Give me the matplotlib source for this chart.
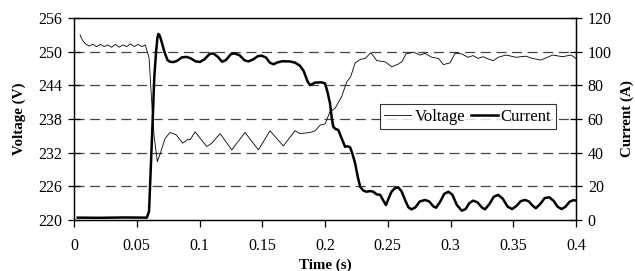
import matplotlib
matplotlib.use("Agg")
import matplotlib.pyplot as plt

plt.rcParams['font.family'] = ['Liberation Serif', 'DejaVu Serif']

time_v = [0.0048, 0.0066, 0.009, 0.012, 0.015, 0.018, 0.021, 0.024, 0.027, 0.030,
          0.033, 0.036, 0.039, 0.042, 0.045, 0.048, 0.051, 0.054, 0.0568, 0.0598,
          0.0622, 0.0638, 0.0664, 0.069, 0.0725, 0.0765, 0.0813, 0.0866, 0.0911, 0.0925,
          0.0965, 0.1058, 0.1098, 0.1164, 0.1257, 0.1363, 0.1469, 0.1562, 0.1668, 0.1761,
          0.1801, 0.1881, 0.1921, 0.1961, 0.2000, 0.2040, 0.2080, 0.2133, 0.2173, 0.2204,
          0.2240, 0.2280, 0.2320, 0.2365, 0.2413, 0.2479, 0.2532, 0.2585, 0.2612, 0.2646,
          0.2705, 0.2758, 0.2797, 0.2851, 0.2904, 0.2944, 0.2996, 0.3036, 0.3090, 0.3140,
          0.3180, 0.3220, 0.3260, 0.3300, 0.3342, 0.3380, 0.3442, 0.3522, 0.3602, 0.3650,
          0.3721, 0.3814, 0.3894, 0.3960, 0.4000]
voltage = [253.0, 252.1, 251.4, 251.0, 251.3, 250.9, 251.3, 250.9, 251.2, 250.8,
           251.3, 250.8, 251.2, 250.9, 251.4, 250.9, 251.3, 250.9, 251.2, 248.9,
           240.0, 235.0, 230.4, 232.0, 234.5, 235.6, 235.2, 233.7, 234.4, 234.3,
           235.7, 233.1, 233.7, 235.4, 232.5, 235.6, 232.5, 235.9, 233.2, 235.9,
           235.4, 235.6, 235.9, 236.9, 237.1, 239.3, 239.9, 242.0, 244.6, 245.5,
           248.0, 248.6, 248.8, 249.8, 248.4, 248.2, 247.3, 247.8, 248.2, 249.6,
           249.9, 249.4, 249.7, 249.0, 248.8, 247.7, 248.0, 249.7, 249.6, 249.0,
           249.3, 248.8, 249.1, 248.7, 248.4, 249.0, 249.4, 249.0, 249.2, 248.8,
           248.5, 249.4, 249.1, 249.4, 248.8]

time_i = [0.003, 0.020, 0.040, 0.058, 0.0598, 0.0622, 0.064, 0.0654, 0.0665, 0.0672,
          0.068, 0.069, 0.072, 0.0745, 0.0765, 0.079, 0.082, 0.086, 0.0898, 0.093,
          0.097, 0.1004, 0.104, 0.108, 0.111, 0.1145, 0.118, 0.121, 0.125, 0.128,
          0.132, 0.136, 0.139, 0.143, 0.1466, 0.1496, 0.153, 0.156, 0.159, 0.162,
          0.166, 0.172, 0.176, 0.180, 0.183, 0.186, 0.188, 0.190, 0.192, 0.197,
          0.200, 0.202, 0.204, 0.2055, 0.2066, 0.2085, 0.2106, 0.213, 0.216, 0.218,
          0.220, 0.222, 0.224, 0.226, 0.228, 0.2305, 0.233, 0.236, 0.2385, 0.241,
          0.244, 0.2465, 0.2486, 0.2505, 0.253, 0.2555, 0.2584, 0.261, 0.264, 0.2665,
          0.269, 0.272, 0.2755, 0.2797, 0.283, 0.2865, 0.2885, 0.2915, 0.295, 0.2983,
          0.3015, 0.305, 0.309, 0.312, 0.315, 0.318, 0.3215, 0.325, 0.3275, 0.331,
          0.3345, 0.338, 0.3415, 0.3455, 0.349, 0.3525, 0.356, 0.3594, 0.3625, 0.3655,
          0.368, 0.3715, 0.375, 0.3787, 0.382, 0.3855, 0.3886, 0.3915, 0.395, 0.398,
          0.400]
current = [1.4, 1.3, 1.5, 1.4, 5.0, 50.0, 85.0, 100.0, 108.5, 110.5,
           110.0, 108.0, 100.0, 95.0, 94.0, 93.8, 94.5, 96.6, 96.9, 96.0,
           94.2, 93.9, 95.5, 98.6, 99.0, 97.0, 94.0, 95.0, 98.5, 99.0,
           97.8, 94.8, 94.2, 95.5, 97.4, 97.6, 96.5, 93.5, 92.5, 93.6,
           94.3, 94.2, 93.5, 91.7, 88.5, 82.5, 80.2, 80.8, 81.6, 81.8,
           81.2, 76.0, 69.3, 60.0, 55.4, 54.0, 53.5, 49.0, 43.5, 43.8,
           43.2, 39.0, 33.7, 26.0, 19.8, 17.5, 16.8, 17.2, 16.8, 15.3,
           14.9, 11.5, 8.9, 12.5, 16.8, 18.8, 19.4, 17.0, 11.5, 7.5,
           6.3, 7.5, 11.0, 11.9, 11.0, 8.0, 7.3, 10.5, 15.5, 16.8,
           15.0, 9.0, 5.5, 6.5, 10.0, 11.5, 10.5, 7.5, 6.3, 9.5,
           13.8, 14.9, 12.8, 8.0, 6.5, 8.3, 11.2, 11.9, 11.0, 8.5,
           7.0, 9.5, 13.0, 13.5, 11.5, 7.8, 6.5, 7.8, 10.9, 11.8,
           11.5]

x_ticks = [0, 0.05, 0.1, 0.15, 0.2, 0.25, 0.3, 0.35, 0.4]
x_ticklabels = ['0', '0.05', '0.1', '0.15', '0.2', '0.25', '0.3', '0.35', '0.4']
v_ticks = [220, 226, 232, 238, 244, 250, 256]
i_ticks = [0, 20, 40, 60, 80, 100, 120]

fig = plt.figure(figsize=(6.35, 2.71), dpi=100)
ax = fig.add_axes([74/635, 51/271, 502/635, 202/271])
ax2 = ax.twinx()

for yv in v_ticks[1:-1]:
    ax.axhline(yv, color='#444444', lw=0.9, ls=(0, (8, 4.5)), zorder=0)

lv, = ax.plot(time_v, voltage, color='black', lw=0.6, label='Voltage')
li, = ax2.plot(time_i, current, color='black', lw=1.8, label='Current',
               solid_joinstyle='round')

ax.set_xlim(0, 0.4)
ax.set_ylim(220, 256)
ax2.set_ylim(0, 120)
ax.set_xticks(x_ticks)
ax.set_xticklabels(x_ticklabels)
ax.set_yticks(v_ticks)
ax2.set_yticks(i_ticks)

for a in (ax, ax2):
    for s in a.spines.values():
        s.set_linewidth(0.9)
ax.tick_params(axis='x', direction='out', length=5, width=0.9, labelsize=11.5, pad=8)
ax.tick_params(axis='y', direction='inout', length=9, width=0.9, labelsize=11.5, pad=4)
ax2.tick_params(axis='y', direction='inout', length=9, width=0.9, labelsize=11.5, pad=4)

ax.set_xlabel('Time (s)', fontsize=10.8, fontweight='bold', labelpad=3)
ax.set_ylabel('Voltage (V)', fontsize=10.8, fontweight='bold', labelpad=9)
ax2.set_ylabel('Current (A)', fontsize=10.8, fontweight='bold', labelpad=6)

leg = ax2.legend(handles=[lv, li], ncol=2, loc='center left',
                 bbox_to_anchor=(0.61, 0.512), borderaxespad=0,
                 fontsize=12, frameon=True,
                 fancybox=False, edgecolor='black', handlelength=1.6,
                 handletextpad=0.2, columnspacing=0.35, borderpad=0.25)
leg.get_frame().set_linewidth(0.8)

fig.savefig('out.png', dpi=100)
